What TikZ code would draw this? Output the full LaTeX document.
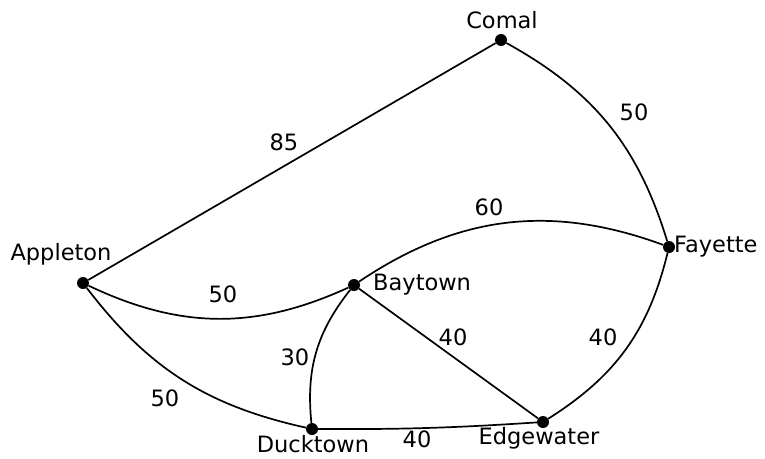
\documentclass[tikz,border=0pt]{standalone}
\usepackage{fontspec}
\setmainfont{DejaVu Sans}
\begin{document}
\begin{tikzpicture}[x=1pt,y=-1pt,
  vtx/.style={circle,fill=black,inner sep=0pt,minimum size=12pt},
  lbl/.style={font=\fontsize{22.5}{26}\selectfont,inner sep=0pt,anchor=center},
  edge/.style={line width=1.7pt}]
\useasboundingbox (0,0) rectangle (765,458);
\node[vtx] (C) at (501,40) {};
\node[vtx] (F) at (669,247) {};
\node[vtx] (A) at (83,283) {};
\node[vtx] (B) at (354,285) {};
\node[vtx] (D) at (312,429) {};
\node[vtx] (E) at (543,422) {};
\node[lbl] (lC) at (502,20) {Comal};
\node[lbl,anchor=west] (lF) at (674,247) {Fayette};
\node[lbl] (lA) at (61,254) {Appleton};
\node[lbl,anchor=west] (lB) at (373,285) {Baytown};
\node[lbl] (lD) at (313,444) {Ducktown};
\node[lbl] (lE) at (539,438) {Edgewater};
\draw[edge] (A) -- (C);
\draw[edge] (C) to[bend left=22] (F);
\draw[edge] (A) to[bend right=25] (B);
\draw[edge] (B) to[bend left=27] (F);
\draw[edge] (A) to[bend right=20] (D);
\draw[edge] (B) to[bend right=22] (D);
\draw[edge] (B) -- (E);
\draw[edge] (D) to[bend right=2] (E);
\draw[edge] (F) to[bend left=22] (E);
\node[lbl] (w1) at (284,142) {85};
\node[lbl] (w2) at (634,112) {50};
\node[lbl] (w3) at (489,207) {60};
\node[lbl] (w4) at (223,294) {50};
\node[lbl] (w5) at (295,357) {30};
\node[lbl] (w6) at (165,398) {50};
\node[lbl] (w7) at (453,337) {40};
\node[lbl] (w8) at (603,337) {40};
\node[lbl] (w9) at (417,439) {40};
\end{tikzpicture}
\end{document}
